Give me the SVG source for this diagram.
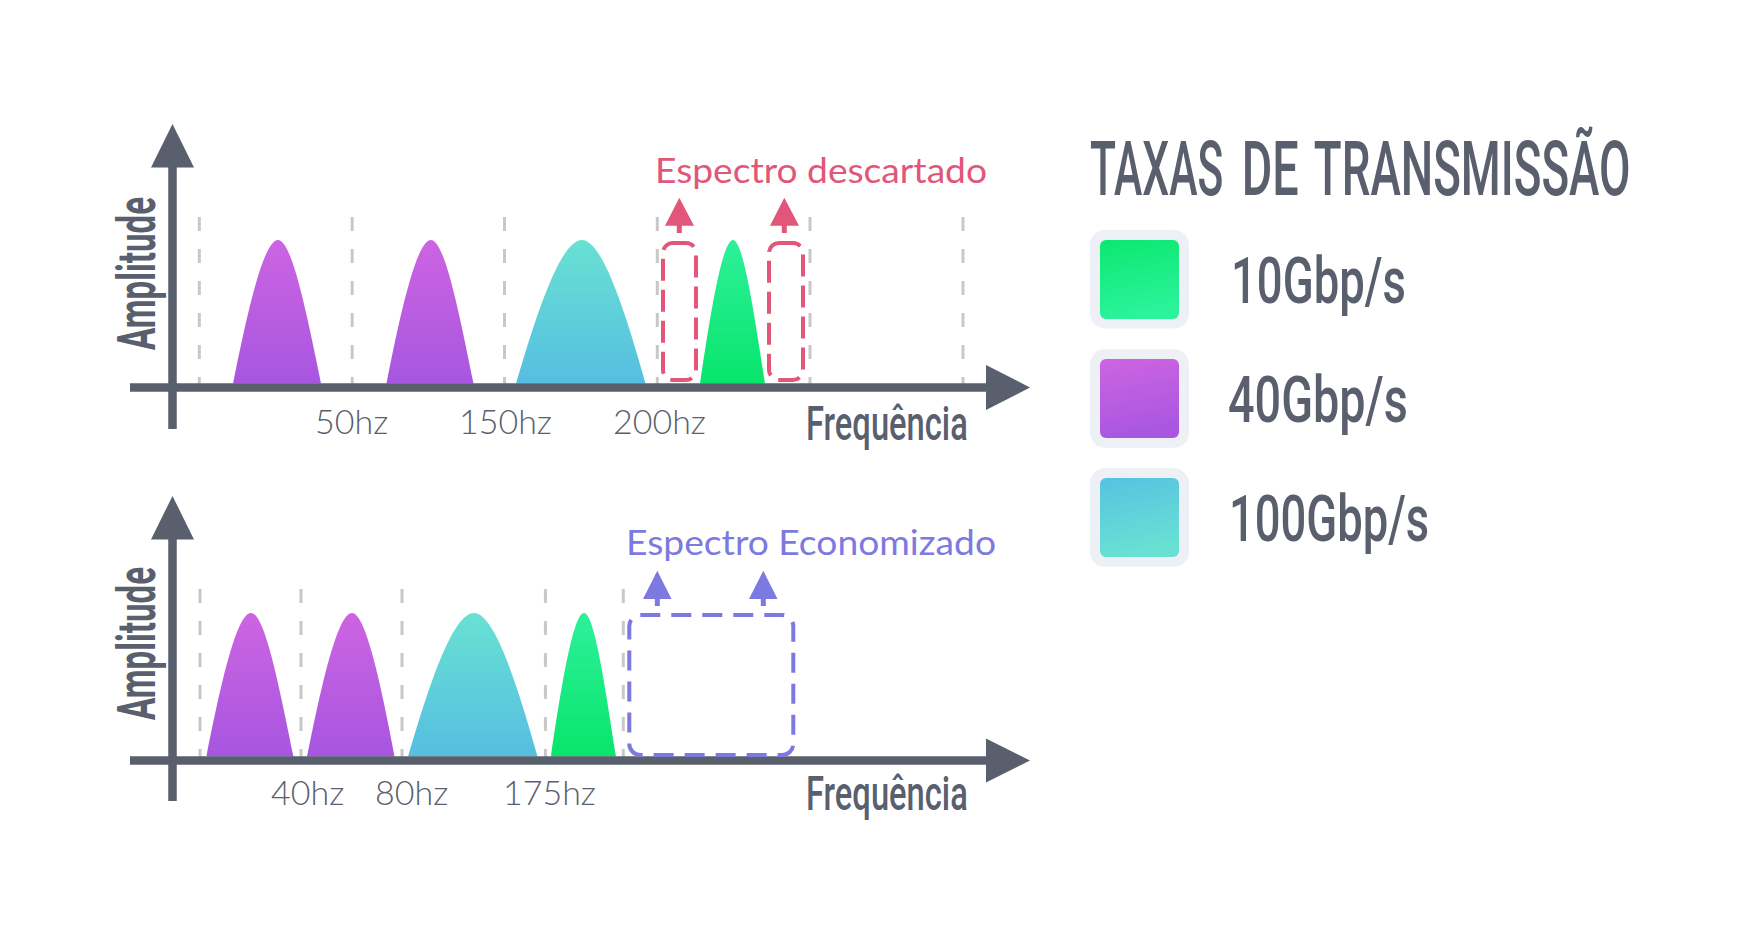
<svg xmlns="http://www.w3.org/2000/svg" width="1737" height="945" viewBox="0 0 1737 945">
<defs>
<linearGradient id="gPurple" x1="0" y1="0" x2="0" y2="1"><stop offset="0" stop-color="#cd64e2"/><stop offset="1" stop-color="#a756e0"/></linearGradient>
<linearGradient id="gTeal" x1="0" y1="0" x2="0" y2="1"><stop offset="0" stop-color="#68e1d3"/><stop offset="1" stop-color="#56bee1"/></linearGradient>
<linearGradient id="gGreen" x1="0" y1="0" x2="0" y2="1"><stop offset="0" stop-color="#2ef09a"/><stop offset="1" stop-color="#08e56c"/></linearGradient>
<linearGradient id="lGreen" x1="0" y1="0" x2="0.2" y2="1"><stop offset="0" stop-color="#0be86f"/><stop offset="1" stop-color="#2bf39c"/></linearGradient>
<linearGradient id="lPurple" x1="0" y1="0" x2="0.2" y2="1"><stop offset="0" stop-color="#cd64e2"/><stop offset="1" stop-color="#a957e0"/></linearGradient>
<linearGradient id="lTeal" x1="0" y1="0" x2="0.2" y2="1"><stop offset="0" stop-color="#57c2e1"/><stop offset="1" stop-color="#68e1d3"/></linearGradient>
<style>
.axis{stroke:#5a5f6e;stroke-width:8.5;fill:none}
.head{fill:#5a5f6e}
.grid{stroke:#c8c8c8;stroke-width:3;stroke-dasharray:14 18;fill:none}
.hz{font-family:Lato,"Open Sans",sans-serif;font-weight:300;font-size:34px;fill:#5a5f6e}
.cond{font-family:Roboto,"Liberation Sans",sans-serif;font-weight:500;fill:#5a5f6e}
.bold{font-weight:700}
.pink{fill:#e2567a}
.blue{fill:#7c79e0}
.note{font-family:Lato,"Noto Sans",sans-serif;font-weight:400;font-size:35px}
.pbox{fill:none;stroke:#e2567a;stroke-width:4;stroke-dasharray:22 9}
.bbox{fill:none;stroke:#7c79e0;stroke-width:4;stroke-dasharray:20 11}
.outer{fill:#edf1f5}
</style>
</defs>

<g id="chart-top">
  <g id="grid-top">
    <line class="grid" x1="199.3" y1="217" x2="199.3" y2="384"/>
    <line class="grid" x1="352.2" y1="217" x2="352.2" y2="384"/>
    <line class="grid" x1="504.5" y1="217" x2="504.5" y2="384"/>
    <line class="grid" x1="657.3" y1="217" x2="657.3" y2="384"/>
    <line class="grid" x1="810" y1="217" x2="810" y2="384"/>
    <line class="grid" x1="963" y1="217" x2="963" y2="384"/>
  </g>
  <g id="humps-top">
    <path fill="url(#gPurple)" d="M233,383.5 C247.7,310 263.7,240 278,240 C291.7,240 306,310 321,383.5 Z"/>
    <path fill="url(#gPurple)" d="M386.5,383.5 C401,310 416.8,240 431,240 C444.5,240 458.6,310 473.5,383.5 Z"/>
    <path fill="url(#gTeal)" d="M516,383.5 C537.5,310 561,240 582,240 C602.2,240 624.8,310 645.5,383.5 Z"/>
    <path fill="url(#gGreen)" d="M700,383.5 C710.8,310 722.5,240 733,240 C743.2,240 753.6,310 765,383.5 Z"/>
  </g>
  <g id="axes-top">
    <line class="axis" x1="172.5" y1="165" x2="172.5" y2="429"/>
    <polygon class="head" points="151,167.5 172.5,124 194,167.5"/>
    <line class="axis" x1="130" y1="387.5" x2="988" y2="387.5"/>
    <polygon class="head" points="986,365 1030,387.5 986,410"/>
  </g>
  <text class="cond bold" font-size="53" transform="translate(155,350) rotate(-90) scale(0.63,1)" textLength="243" lengthAdjust="spacingAndGlyphs">Amplitude</text>
  <text class="hz" x="315" y="434">50hz</text>
  <text class="hz" x="459" y="434">150hz</text>
  <text class="hz" x="613" y="434">200hz</text>
  <text class="cond" font-size="48" transform="translate(806,440) scale(0.68,1)" textLength="238" lengthAdjust="spacingAndGlyphs">Frequência</text>
  <g id="descartado">
    <rect class="pbox" x="663" y="243" width="33" height="137" rx="10"/>
    <rect class="pbox" x="769" y="243" width="34" height="137" rx="10"/>
    <polygon class="pink" points="665,225.7 679.3,197.7 694,225.7"/>
    <rect class="pink" x="676.8" y="224" width="5" height="9"/>
    <polygon class="pink" points="770,225.7 784.3,197.7 799,225.7"/>
    <rect class="pink" x="781.8" y="224" width="5" height="9"/>
    <text class="note pink" x="655" y="182.7" textLength="332" lengthAdjust="spacingAndGlyphs">Espectro descartado</text>
  </g>
</g>

<g id="chart-bottom">
  <g id="grid-bottom">
    <line class="grid" x1="200" y1="589" x2="200" y2="757"/>
    <line class="grid" x1="301" y1="589" x2="301" y2="757"/>
    <line class="grid" x1="402" y1="589" x2="402" y2="757"/>
    <line class="grid" x1="545.4" y1="589" x2="545.4" y2="757"/>
    <line class="grid" x1="623.3" y1="589" x2="623.3" y2="757"/>
  </g>
  <g id="humps-bottom">
    <path fill="url(#gPurple)" d="M206.5,756.5 C221,683 236.8,613 251,613 C264.5,613 278.6,683 293.5,756.5 Z"/>
    <path fill="url(#gPurple)" d="M307,756.5 C321.7,683 337.7,613 352,613 C365.5,613 380.6,683 394.5,756.5 Z"/>
    <path fill="url(#gTeal)" d="M408,756.5 C429.5,683 453,613 474,613 C494.2,613 516.8,683 537.5,756.5 Z"/>
    <path fill="url(#gGreen)" d="M551,756.5 C561.8,683 573.5,613 584,613 C594.2,613 604.6,683 616,756.5 Z"/>
  </g>
  <g id="axes-bottom">
    <line class="axis" x1="172.5" y1="537" x2="172.5" y2="801"/>
    <polygon class="head" points="151,539.5 172.5,496 194,539.5"/>
    <line class="axis" x1="130" y1="760.5" x2="988" y2="760.5"/>
    <polygon class="head" points="986,738.5 1030,760.5 986,782.5"/>
  </g>
  <text class="cond bold" font-size="53" transform="translate(155,720) rotate(-90) scale(0.63,1)" textLength="243" lengthAdjust="spacingAndGlyphs">Amplitude</text>
  <text class="hz" x="271" y="805">40hz</text>
  <text class="hz" x="375" y="805">80hz</text>
  <text class="hz" x="503" y="805">175hz</text>
  <text class="cond" font-size="48" transform="translate(806,810) scale(0.68,1)" textLength="238" lengthAdjust="spacingAndGlyphs">Frequência</text>
  <g id="economizado">
    <rect class="bbox" x="629.3" y="615" width="164" height="140" rx="11"/>
    <polygon class="blue" points="643,599 657.3,570.7 671.5,599"/>
    <rect class="blue" x="654.8" y="597" width="5" height="9"/>
    <polygon class="blue" points="749,599 763.3,570.7 777.5,599"/>
    <rect class="blue" x="760.8" y="597" width="5" height="9"/>
    <text class="note blue" x="626" y="555" textLength="370" lengthAdjust="spacingAndGlyphs">Espectro Economizado</text>
  </g>
</g>

<g id="legend">
  <text class="cond" font-size="76" transform="translate(1090,195) scale(0.6,1)"><tspan x="0" textLength="222" lengthAdjust="spacingAndGlyphs">TAXAS</tspan> <tspan x="253" textLength="95" lengthAdjust="spacingAndGlyphs">DE</tspan> <tspan x="373" textLength="528" lengthAdjust="spacingAndGlyphs">TRANSMISSÃO</tspan></text>
  <g id="leg-10">
    <rect class="outer" x="1090" y="230" width="99" height="98.5" rx="15"/>
    <rect fill="url(#lGreen)" x="1100" y="240" width="79" height="79" rx="6"/>
    <text class="cond" font-size="65" transform="translate(1231,302.5) scale(0.7,1)" textLength="250" lengthAdjust="spacingAndGlyphs">10Gbp/s</text>
  </g>
  <g id="leg-40">
    <rect class="outer" x="1090" y="349.3" width="99" height="98.5" rx="15"/>
    <rect fill="url(#lPurple)" x="1100" y="359" width="79" height="79" rx="6"/>
    <text class="cond" font-size="65" transform="translate(1228,421.7) scale(0.7,1)" textLength="257" lengthAdjust="spacingAndGlyphs">40Gbp/s</text>
  </g>
  <g id="leg-100">
    <rect class="outer" x="1090" y="468.3" width="99" height="98.5" rx="15"/>
    <rect fill="url(#lTeal)" x="1100" y="478" width="79" height="79" rx="6"/>
    <text class="cond" font-size="65" transform="translate(1229,540.7) scale(0.7,1)" textLength="286" lengthAdjust="spacingAndGlyphs">100Gbp/s</text>
  </g>
</g>
</svg>
